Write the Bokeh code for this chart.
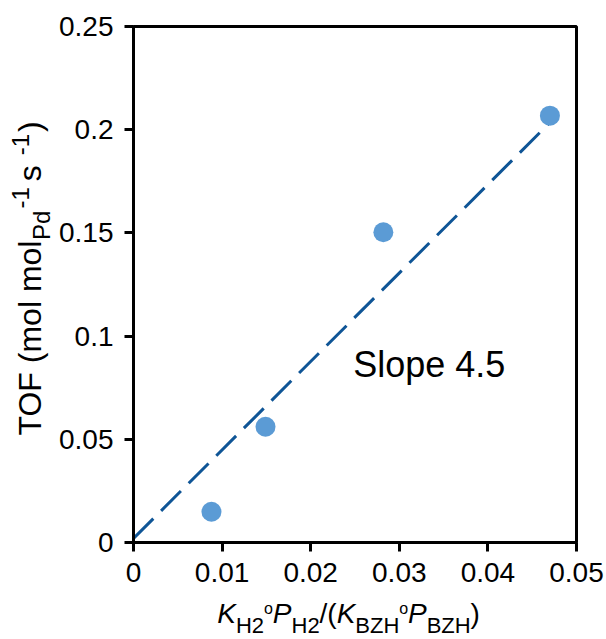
import math
from bokeh.plotting import figure
from bokeh.models import Label, FixedTicker, Range1d
from bokeh.layouts import row, column
from bokeh.embed import file_html
from bokeh.resources import INLINE

# ---- data ----
kx = [0.0088, 0.0149, 0.0282, 0.0470]
tof = [0.0149, 0.0561, 0.1503, 0.2068]
fit_x = [0.0, 0.0468]
fit_y = [0.0020, 0.2026]
x_ticks = [0.0, 0.01, 0.02, 0.03, 0.04, 0.05]
x_tick_labels = ["0", "0.01", "0.02", "0.03", "0.04", "0.05"]
y_ticks = [0.0, 0.05, 0.10, 0.15, 0.20, 0.25]
y_tick_labels = ["0", "0.05", "0.1", "0.15", "0.2", "0.25"]
slope_text = "Slope 4.5"

FONT = "Liberation Sans"
W, H = 606, 639
YW = 56            # width of the y-title strip
MH = 594           # height of the main figure
FL, FR, FT, FB = 132, 576, 26, 542   # frame edges in page px
BASE = 0.33        # empirical alphabetic-baseline correction (em)

p = figure(width=W - YW, height=MH, output_backend="svg", toolbar_location=None,
           x_range=Range1d(0, 0.05), y_range=Range1d(0, 0.25),
           min_border_left=FL - YW, min_border_right=W - FR,
           min_border_top=FT, min_border_bottom=MH - FB)
p.background_fill_color = "white"
p.border_fill_color = "white"
p.outline_line_color = "black"
p.outline_line_width = 3
p.grid.visible = False

for ax, ticks, labels in ((p.xaxis, x_ticks, x_tick_labels), (p.yaxis, y_ticks, y_tick_labels)):
    ax.ticker = FixedTicker(ticks=ticks)
    ax.major_label_overrides = {t: l for t, l in zip(ticks, labels)}
    ax.axis_line_width = 3
    ax.axis_line_color = "black"
    ax.major_tick_line_width = 3
    ax.major_tick_line_color = "black"
    ax.major_tick_out = 9
    ax.major_tick_in = 0
    ax.minor_tick_line_color = None
    ax.major_label_text_font = FONT
    ax.major_label_text_font_size = "28px"
    ax.major_label_text_color = "black"
    ax.axis_label = None
p.xaxis.major_label_standoff = 11
p.yaxis.major_label_standoff = 11

p.line(fit_x, fit_y, line_color="#0F5596", line_width=3, line_dash="28 11")
p.scatter(kx, tof, size=20, fill_color="#5B9BD5", line_color=None)

p.add_layout(Label(x=0.0248, y=0.0862, text=slope_text, text_font=FONT,
                   text_font_size="36px", text_color="black",
                   text_align="left", text_baseline="alphabetic"))


def strip(w, h, xr, yr, bl, br, bt, bb):
    f = figure(width=w, height=h, output_backend="svg", toolbar_location=None,
               x_range=Range1d(*xr), y_range=Range1d(*yr),
               x_axis_type=None, y_axis_type=None,
               min_border_left=bl, min_border_right=br,
               min_border_top=bt, min_border_bottom=bb)
    f.outline_line_color = None
    f.grid.visible = False
    f.background_fill_color = "white"
    f.border_fill_color = "white"
    return f

# title strips; data coordinates = page pixels (y negated so that up is positive)
yfig = strip(YW, H, (0, YW), (-FB, -FT), 0, 0, FT, H - FB)
xfig = strip(W - YW, H - MH, (FL, FR), (-H, -MH), FL - YW, W - FR, 0, 0)

AW = {' ': 278, '(': 333, ')': 333, '-': 333, '.': 278, '/': 278, '1': 556, '2': 556,
      'B': 667, 'F': 611, 'H': 722, 'K': 667, 'O': 778, 'P': 667, 'S': 667, 'T': 611,
      'Z': 611, 'd': 556, 'e': 556, 'l': 222, 'm': 833, 'o': 556, 'p': 556, 's': 500}

def width(text, size):
    return sum(AW.get(c, 556) for c in text) / 1000.0 * size

def run(fig, pieces, x0, y0, vertical=False):
    cur = 0.0
    for text, size, shift, style, gap in pieces:
        cur += gap
        corr = BASE * size
        if vertical:
            xc, yc = x0 + shift - corr, y0 - cur
        else:
            xc, yc = x0 + cur, y0 + shift - corr
        fig.add_layout(Label(x=xc, y=-yc,
                             text=text, text_font=FONT, text_font_size=f"{size}px",
                             text_font_style=style, text_color="black",
                             angle=(math.pi / 2 if vertical else 0),
                             text_align="left", text_baseline="alphabetic"))
        cur += width(text, size)

M, S = 28, 22
xlab = [("K", M, 0, "italic", 0), ("H2", S, 10, "normal", 0), ("o", 16, -9, "normal", 0),
        ("P", M, 0, "italic", 0), ("H2", S, 10, "normal", 0), ("/(", M, 0, "normal", 0),
        ("K", M, 0, "italic", 0), ("BZH", S, 10, "normal", 0), ("o", 16, -9, "normal", 0),
        ("P", M, 0, "italic", 0), ("BZH", S, 10, "normal", 0), (")", M, 0, "normal", 0)]
run(xfig, xlab, 216, 622)

YM, YS = 32, 24
ylab = [("TOF (mol mol", YM, 0, "normal", 0), ("Pd", YS, 9, "normal", 0),
        ("-1", YS, -12, "normal", 2), (" s", YM, 0, "normal", 6),
        ("-1", YS, -12, "normal", 1), (")", YM, 0, "normal", 2)]
run(yfig, ylab, 40, 435, vertical=True)

layout = row(yfig, column(p, xfig, spacing=0), spacing=0)
open("out.html", "w").write(file_html(layout, INLINE))
